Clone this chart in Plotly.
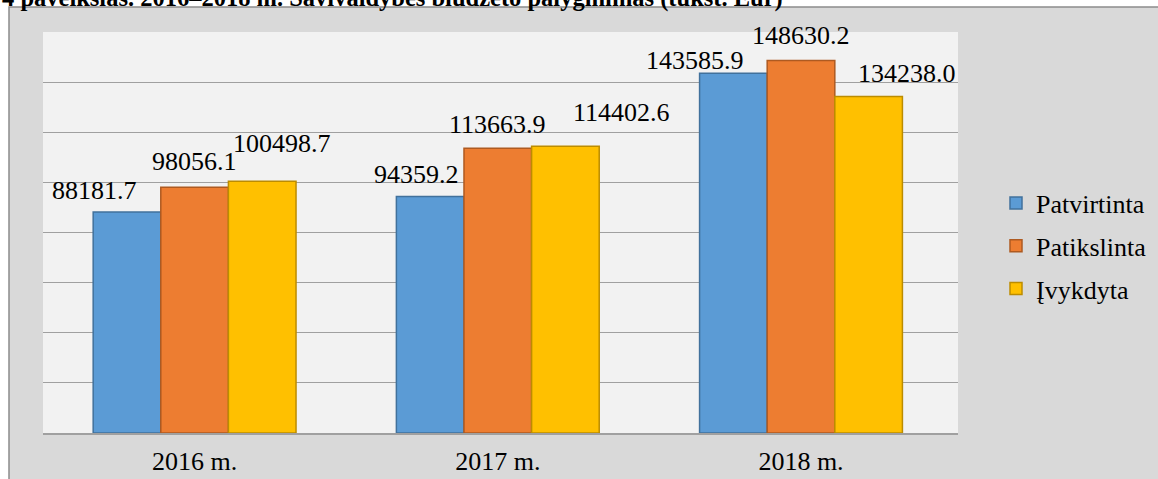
import plotly.graph_objects as go

# ---- data ----
categories = ["2016 m.", "2017 m.", "2018 m."]
series_names = ["Patvirtinta", "Patikslinta", "Įvykdyta"]
patvirtinta = [88181.7, 94359.2, 143585.9]
patikslinta = [98056.1, 113663.9, 148630.2]
ivykdyta = [100498.7, 114402.6, 134238.0]
title_text = "4 paveikslas. 2016–2018 m. Savivaldybės biudžeto palyginimas (tūkst. Eur)"

# ---- style ----
W, H = 1158, 479
ML, MR, MT, MB = 43, 200, 32, 46
PW, PH = W - ML - MR, H - MT - MB
fills = ["#5B9BD5", "#ED7D31", "#FFC000"]
edges = ["#41719C", "#AE5A21", "#BC8C00"]
label_dx = [[-100, -81, -106], [0, 0, 0], [87, 124, 106]]
label_dy = [[23, 24, 15], [28, 26, 27], [40, 36, 25]]
FONT = "Liberation Serif"
FS = 26


def px_x(p):
    return (p - ML) / PW


def px_y(p):
    return (H - MB - p) / PH


series_values = [patvirtinta, patikslinta, ivykdyta]

fig = go.Figure()
for i, (name, vals) in enumerate(zip(series_names, series_values)):
    fig.add_trace(go.Bar(
        x=categories, y=vals, name=name,
        marker=dict(color=fills[i], line=dict(color=edges[i], width=1.5)),
        legendgroup=name,
    ))

annotations = []
for i, vals in enumerate(series_values):
    for j, cat in enumerate(categories):
        annotations.append(dict(
            x=cat, y=vals[j], xref="x", yref="y",
            text=f"{vals[j]:.1f}", showarrow=False,
            xanchor="center", yanchor="middle",
            xshift=label_dx[i][j], yshift=label_dy[i][j] - 2,
            font=dict(family=FONT, size=FS, color="#000000"),
        ))

annotations.append(dict(
    x=px_x(0), y=1, xref="paper", yref="paper",
    xanchor="left", yanchor="middle", yshift=MT + 2,
    text="<b>" + title_text + "</b>", showarrow=False,
    font=dict(family=FONT, size=24.5, color="#000000"),
))

shapes = [
    dict(type="rect", xref="paper", yref="paper", layer="below",
         x0=px_x(9), x1=px_x(W + 20), y0=px_y(7), y1=px_y(H + 20),
         fillcolor="#D9D9D9", line=dict(color="#8C8C8C", width=1.5)),
    dict(type="rect", xref="paper", yref="paper", layer="below",
         x0=0, x1=1, y0=0, y1=1,
         fillcolor="#F2F2F2", line=dict(width=0)),
]

fig.update_layout(
    width=W, height=H,
    margin=dict(l=ML, r=MR, t=MT, b=MB, autoexpand=False),
    paper_bgcolor="#FFFFFF", plot_bgcolor="#F2F2F2",
    barmode="group", bargap=0.331, bargroupgap=0,
    font=dict(family=FONT, size=FS, color="#000000"),
    showlegend=True,
    legend=dict(
        x=px_x(996), y=px_y(246), xanchor="left", yanchor="middle",
        bgcolor="rgba(0,0,0,0)", font=dict(family=FONT, size=FS, color="#000000"),
        traceorder="grouped", tracegroupgap=6,
    ),
    annotations=annotations,
    shapes=shapes,
    xaxis=dict(
        showline=True, linecolor="#A0A0A0", linewidth=1.5,
        showgrid=False, ticks="", ticklabelstandoff=4,
        tickfont=dict(family=FONT, size=FS, color="#000000"),
    ),
    yaxis=dict(
        range=[0, 160000], dtick=20000, showticklabels=False,
        showgrid=True, gridcolor="#A0A0A0", gridwidth=1.3,
        zeroline=False, ticks="",
    ),
)

fig.write_html(
    "out.html",
    config={"displayModeBar": False},
    post_script="document.body.style.margin='0';document.body.style.overflow='hidden';",
)
